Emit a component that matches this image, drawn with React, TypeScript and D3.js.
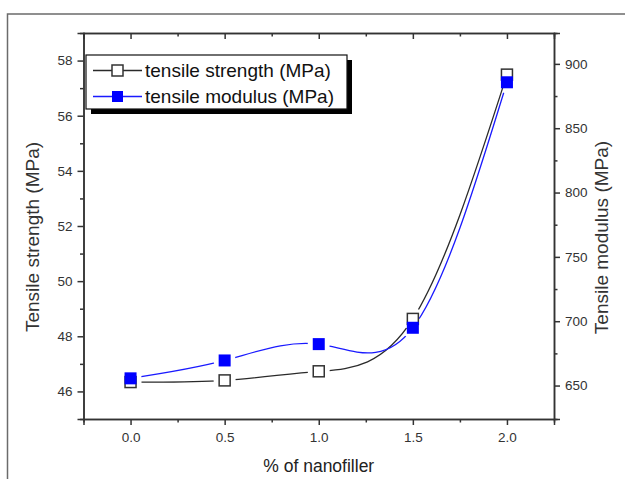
import React, { useRef, useEffect } from 'react';
import * as d3 from 'd3';

// % nanofiller vs tensile properties
const fillerPct = [0, 0.5, 1.0, 1.5, 2.0];
const strengthMPa = [46.34, 46.4, 46.73, 48.63, 57.49];
const modulusMPa = [655.6, 669.5, 682.2, 694.9, 885.7];

const xTicks = [0, 0.5, 1.0, 1.5, 2.0];
const xMinor = [0.25, 0.75, 1.25, 1.75];
const leftTicks = [46, 48, 50, 52, 54, 56, 58];
const leftMinor = [47, 49, 51, 53, 55, 57];
const rightTicks = [650, 700, 750, 800, 850, 900];
const rightMinor = [675, 725, 775, 825, 875];

const legendLabels = ['tensile strength (MPa)', 'tensile modulus (MPa)'];

const W = 625;
const H = 479;
const margin = { top: 33, right: 71, bottom: 60, left: 83.5 };
const FONT = '"Liberation Sans", Arial, sans-serif';

const Chart = () => {
  const svgRef = useRef<SVGSVGElement>(null);

  useEffect(() => {
    const svg = d3.select(svgRef.current);
    svg.selectAll('*').remove();

    const x0 = margin.left;
    const x1 = W - margin.right;
    const y0 = H - margin.bottom;
    const y1 = margin.top;

    const x = d3.scaleLinear().domain([-0.25, 2.25]).range([x0, x1]);
    const yL = d3.scaleLinear().domain([45, 59]).range([y0, y1]);
    const yR = d3.scaleLinear().domain([624, 924]).range([y0, y1]);

    // outer frame of the figure
    svg.append('rect')
      .attr('x', 7.5).attr('y', 14)
      .attr('width', 800).attr('height', 600)
      .attr('fill', 'none')
      .attr('stroke', '#6b6b6b')
      .attr('stroke-width', 1.5);

    const defs = svg.append('defs');

    const strength = fillerPct.map((p, i) => [x(p), yL(strengthMPa[i])] as [number, number]);
    const modulus = fillerPct.map((p, i) => [x(p), yR(modulusMPa[i])] as [number, number]);

    // gaps around the symbols, Origin style
    const makeMask = (id: string, pts: [number, number][]) => {
      const m = defs.append('mask').attr('id', id)
        .attr('maskUnits', 'userSpaceOnUse')
        .attr('x', 0).attr('y', 0).attr('width', W).attr('height', H);
      m.append('rect').attr('width', W).attr('height', H).attr('fill', 'white');
      m.selectAll('circle').data(pts).enter().append('circle')
        .attr('cx', d => d[0]).attr('cy', d => d[1]).attr('r', 11).attr('fill', 'black');
    };
    makeMask('gapS', strength);
    makeMask('gapM', modulus);

    const line = d3.line<[number, number]>().curve(d3.curveNatural);

    svg.append('path')
      .attr('d', line(strength))
      .attr('fill', 'none')
      .attr('stroke', '#2a2a2a')
      .attr('stroke-width', 1.3)
      .attr('mask', 'url(#gapS)');

    svg.append('path')
      .attr('d', line(modulus))
      .attr('fill', 'none')
      .attr('stroke', '#1a1aff')
      .attr('stroke-width', 1.3)
      .attr('mask', 'url(#gapM)');

    const ms = 11;
    svg.append('g').selectAll('rect').data(strength).enter().append('rect')
      .attr('x', d => d[0] - ms / 2).attr('y', d => d[1] - ms / 2)
      .attr('width', ms).attr('height', ms)
      .attr('fill', 'white').attr('stroke', '#333').attr('stroke-width', 1.5);

    svg.append('g').selectAll('rect').data(modulus).enter().append('rect')
      .attr('x', d => d[0] - 6).attr('y', d => d[1] - 6)
      .attr('width', 12).attr('height', 12)
      .attr('fill', '#0000ff');

    // axes
    const styleAxis = (g: any) => {
      g.select('.domain').attr('stroke', '#333').attr('stroke-width', 1.5);
      g.selectAll('.tick line').attr('stroke', '#333').attr('stroke-width', 1.5);
      g.selectAll('.tick text')
        .attr('fill', '#333')
        .style('font-family', FONT)
        .style('font-size', '13.5px');
    };

    svg.append('g')
      .attr('transform', `translate(0,${y0})`)
      .call(d3.axisBottom(x).tickValues(xTicks).tickFormat(d3.format('.1f')).tickSizeOuter(0).tickSize(6).tickPadding(7))
      .call(styleAxis);
    svg.append('g')
      .attr('transform', `translate(0,${y0})`)
      .call(d3.axisBottom(x).tickValues(xMinor).tickFormat(() => '').tickSizeOuter(0).tickSize(3.5))
      .call(styleAxis);

    // top mirror axis, ticks inward
    svg.append('g')
      .attr('transform', `translate(0,${y1})`)
      .call(d3.axisBottom(x).tickValues(xTicks).tickFormat(() => '').tickSizeOuter(0).tickSize(6))
      .call(styleAxis);
    svg.append('g')
      .attr('transform', `translate(0,${y1})`)
      .call(d3.axisBottom(x).tickValues(xMinor).tickFormat(() => '').tickSizeOuter(0).tickSize(3.5))
      .call(styleAxis);

    svg.append('g')
      .attr('transform', `translate(${x0},0)`)
      .call(d3.axisLeft(yL).tickValues(leftTicks).tickFormat(d3.format('d')).tickSizeOuter(0).tickSize(6).tickPadding(5))
      .call(styleAxis);
    svg.append('g')
      .attr('transform', `translate(${x0},0)`)
      .call(d3.axisLeft(yL).tickValues(leftMinor).tickFormat(() => '').tickSizeOuter(0).tickSize(3.5))
      .call(styleAxis);

    svg.append('g')
      .attr('transform', `translate(${x1},0)`)
      .call(d3.axisRight(yR).tickValues(rightTicks).tickFormat(d3.format('d')).tickSizeOuter(0).tickSize(6).tickPadding(5))
      .call(styleAxis);
    svg.append('g')
      .attr('transform', `translate(${x1},0)`)
      .call(d3.axisRight(yR).tickValues(rightMinor).tickFormat(() => '').tickSizeOuter(0).tickSize(3.5))
      .call(styleAxis);

    // axis titles
    svg.append('text')
      .attr('transform', `translate(39,237) rotate(-90)`)
      .attr('text-anchor', 'middle')
      .attr('fill', '#333')
      .style('font-family', FONT).style('font-size', '19px')
      .text('Tensile strength (MPa)');

    svg.append('text')
      .attr('transform', `translate(608,237.5) rotate(-90)`)
      .attr('text-anchor', 'middle')
      .attr('fill', '#333')
      .style('font-family', FONT).style('font-size', '19px')
      .text('Tensile modulus (MPa)');

    svg.append('text')
      .attr('x', x(1)).attr('y', 472)
      .attr('text-anchor', 'middle')
      .attr('fill', '#222')
      .style('font-family', FONT).style('font-size', '17.5px')
      .text('% of nanofiller');

    // legend
    const lg = svg.append('g');
    lg.append('rect')
      .attr('x', 91).attr('y', 60).attr('width', 261).attr('height', 54)
      .attr('fill', '#000');
    lg.append('rect')
      .attr('x', 86).attr('y', 55).attr('width', 261).attr('height', 54)
      .attr('fill', 'white').attr('stroke', '#111').attr('stroke-width', 1.2);

    const rows = [
      { y: 77, stroke: '#2a2a2a', fill: 'white', mstroke: '#333' },
      { y: 103, stroke: '#1a1aff', fill: '#0000ff', mstroke: 'none' },
    ];
    rows.forEach((r, i) => {
      const cy = r.y - 6.5;
      lg.append('line')
        .attr('x1', 93).attr('x2', 142).attr('y1', cy).attr('y2', cy)
        .attr('stroke', r.stroke).attr('stroke-width', 1.3);
      lg.append('rect')
        .attr('x', 117.5 - 5.5).attr('y', cy - 5.5).attr('width', 11).attr('height', 11)
        .attr('fill', r.fill).attr('stroke', r.mstroke).attr('stroke-width', 1.5);
      lg.append('text')
        .attr('x', 145).attr('y', r.y)
        .attr('fill', '#111')
        .style('font-family', FONT).style('font-size', '19px')
        .text(legendLabels[i]);
    });
  }, []);

  return (
    <svg
      ref={svgRef}
      width={W}
      height={H}
      style={{ position: 'absolute', left: 0, top: 0, background: 'white' }}
    />
  );
};

export default function App() {
  return <Chart />;
}
